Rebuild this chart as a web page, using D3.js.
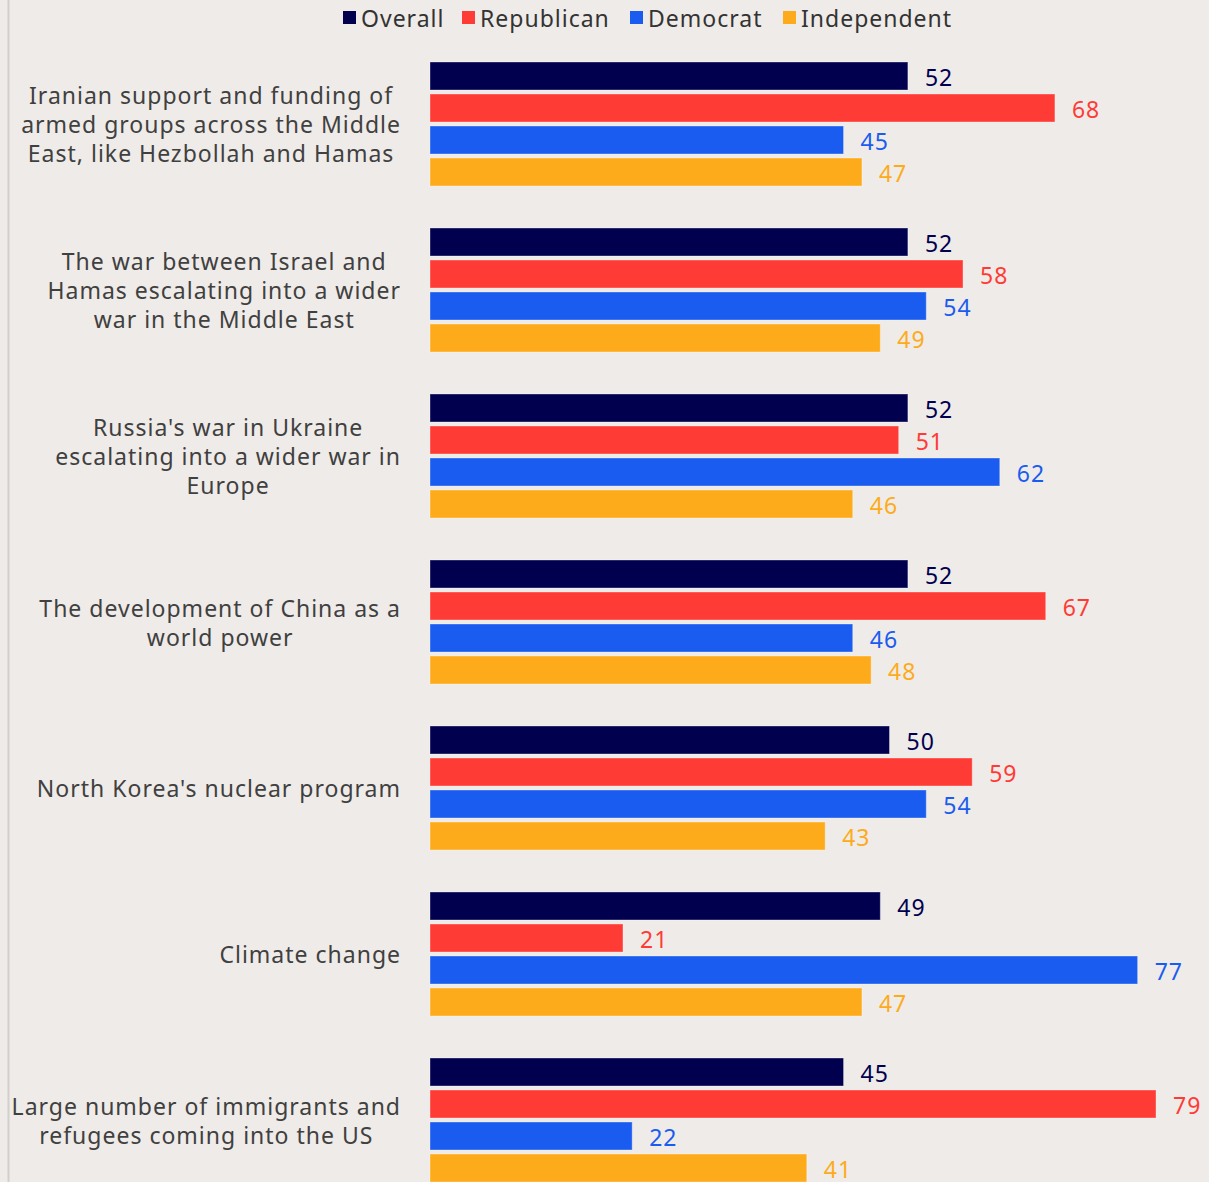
<!DOCTYPE html>
<html><head><meta charset="utf-8">
<script src="https://cdn.jsdelivr.net/npm/d3@7"></script>
<style>
html,body{margin:0;padding:0;background:#efebe8;}
svg{display:block;}
</style></head>
<body>
<script>
const categories = [
  ["Iranian support and funding of","armed groups across the Middle","East, like Hezbollah and Hamas"],
  ["The war between Israel and","Hamas escalating into a wider","war in the Middle East"],
  ["Russia's war in Ukraine","escalating into a wider war in","Europe"],
  ["The development of China as a","world power"],
  ["North Korea's nuclear program"],
  ["Climate change"],
  ["Large number of immigrants and","refugees coming into the US"]
];
const seriesNames = ["Overall","Republican","Democrat","Independent"];
const overall = [52,52,52,52,50,49,45];
const republican = [68,58,51,67,59,21,79];
const democrat = [45,54,62,46,54,77,22];
const independent = [47,49,46,48,43,47,41];
const colors = ["#00004f","#ff3b36","#1a5cf0","#fdab1a"];
const labelColors = ["#00004f","#ff3b36","#1a5cf0","#fdab1a"];

const W = 1209, H = 1182;
const FONT = "'Noto Sans', sans-serif";
const FS = 23, LS = 1;
const svg = d3.select("body").append("svg").attr("width", W).attr("height", H);
svg.append("rect").attr("width", W).attr("height", H).attr("fill", "#efebe8");
svg.append("line").attr("x1", 8.5).attr("x2", 8.5).attr("y1", 0).attr("y2", H)
  .attr("stroke", "#d3cfcc").attr("stroke-width", 2);

const values = [overall, republican, democrat, independent];
const x = d3.scaleLinear().domain([0, 100]).range([430, 430 + 919]);
const y0 = d3.scaleBand().domain(d3.range(categories.length)).range([62, 62 + 166 * 7]);
const y1 = d3.scaleBand().domain(d3.range(4)).range([0, 124]).paddingInner(4/32).paddingOuter(0);

const groups = svg.selectAll("g.cat").data(categories).join("g")
  .attr("class", "cat").attr("transform", (d, i) => `translate(0,${y0(i)})`);

groups.each(function(lines, ci) {
  const g = d3.select(this);
  seriesNames.forEach((s, si) => {
    const v = values[si][ci];
    g.append("rect").attr("x", x(0)).attr("y", y1(si))
      .attr("width", x(v) - x(0)).attr("height", y1.bandwidth())
      .attr("fill", colors[si]).attr("stroke", "rgba(255,255,255,0.35)").attr("stroke-width", 1);
    g.append("text").attr("x", x(v) + 17).attr("y", y1(si) + y1.bandwidth() / 2 + 1)
      .attr("dominant-baseline", "central")
      .attr("font-family", FONT).attr("font-size", FS).attr("letter-spacing", LS)
      .attr("fill", labelColors[si]).text(v);
  });
  // category label: block right-aligned at 401, lines centered within block
  const t = g.append("g");
  const texts = lines.map((l, li) => t.append("text")
    .attr("font-family", FONT).attr("font-size", FS).attr("letter-spacing", LS).attr("fill", "#404040")
    .attr("text-anchor", "middle").attr("dominant-baseline", "central")
    .attr("y", 62 + (li - (lines.length - 1) / 2) * 29)
    .text(l));
  const maxW = d3.max(texts, tt => tt.node().getComputedTextLength());
  texts.forEach(tt => tt.attr("x", 401 - maxW / 2));
});

// legend
const legendX = [343, 462, 630, 783];
const lg = svg.append("g");
seriesNames.forEach((s, i) => {
  lg.append("rect").attr("x", legendX[i]).attr("y", 11).attr("width", 13).attr("height", 13).attr("fill", colors[i]);
  lg.append("text").attr("x", legendX[i] + 18).attr("y", 18).attr("dominant-baseline", "central")
    .attr("font-family", FONT).attr("font-size", FS).attr("letter-spacing", LS).attr("fill", "#333").text(s);
});
</script>
</body></html>
